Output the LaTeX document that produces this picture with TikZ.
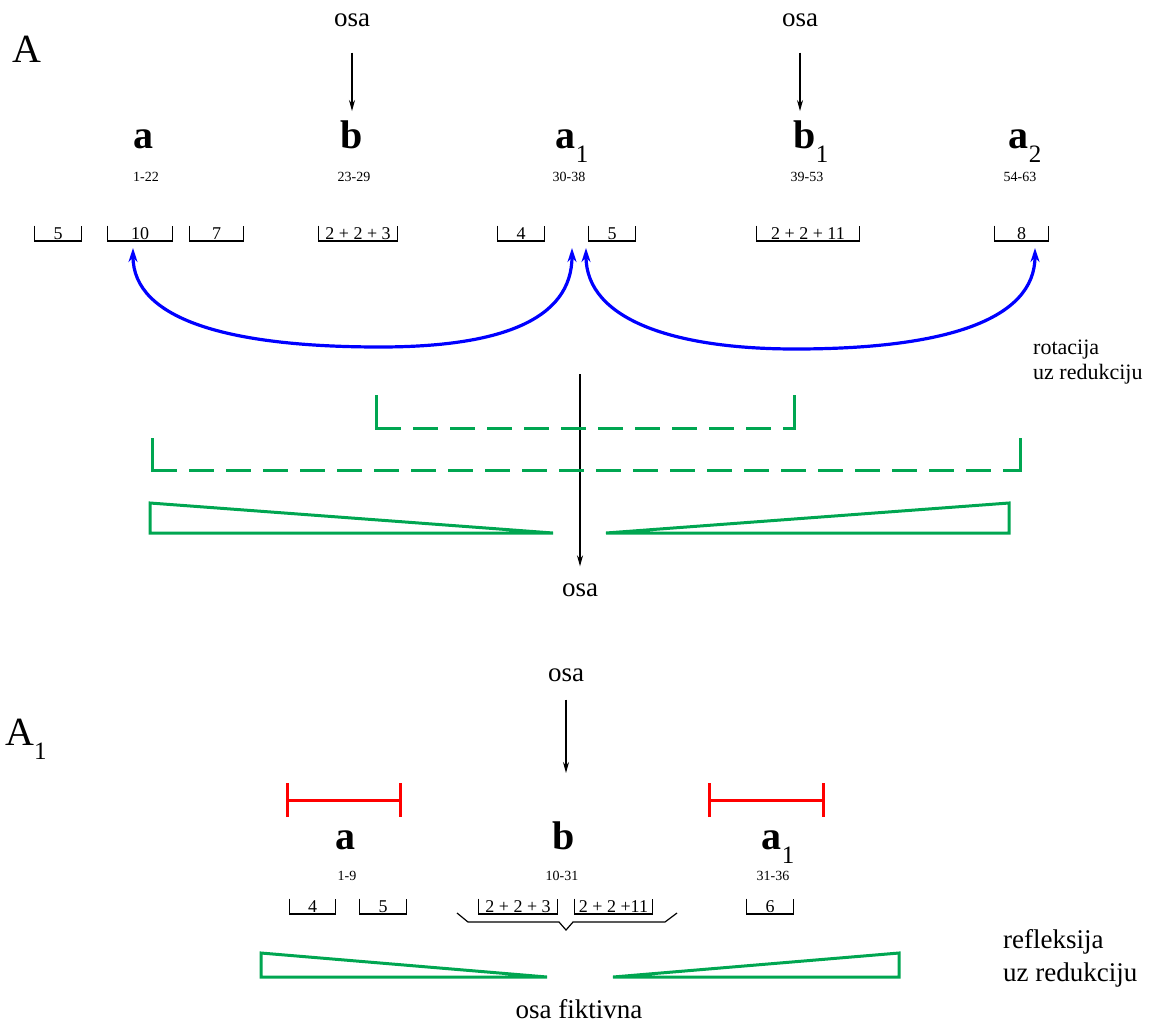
\documentclass[tikz,border=0pt]{standalone}
\usepackage{fontspec}
\setmainfont{Liberation Serif}
\usepackage{xcolor}
\usepackage{tikz}
\usetikzlibrary{arrows.meta}
\definecolor{grn}{RGB}{0,166,81}
\definecolor{blu}{RGB}{0,0,255}
\definecolor{rd}{RGB}{255,0,0}
\newcommand{\idx}[1]{\raisebox{-.35em}{\fontsize{25}{25}\selectfont\mdseries #1}}
\tikzset{
  big/.style={font=\fontsize{40}{40}\selectfont, inner sep=0pt, anchor=base},
  sym/.style={big, font=\fontsize{40}{40}\selectfont\bfseries},
  rng/.style={font=\fontsize{14}{14}\selectfont, inner sep=0pt},
  brk/.style={font=\fontsize{18}{18}\selectfont, inner sep=0pt, minimum height=15pt, anchor=south},
  brkline/.style={line width=1.2pt},
  lbl/.style={font=\fontsize{27}{27}\selectfont, inner sep=0pt},
  note/.style={align=left, anchor=west, inner sep=0pt},
  axarr/.style={-{Stealth[length=11pt, width=6pt]}, line width=1.4pt},
  rotarr/.style={{Stealth[length=14pt, width=9pt]}-{Stealth[length=14pt, width=9pt]}, draw=blu, line width=3.2pt},
  gline/.style={draw=grn, line width=3pt},
  gleg/.style={gline, line cap=rect},
  gdash/.style={gline, dash pattern=on 25pt off 12pt},
  redbar/.style={draw=rd, line width=3pt, {Bar[width=34pt]}-{Bar[width=34pt]}},
}
\begin{document}
\begin{tikzpicture}[x=1pt, y=-1pt]
  \useasboundingbox (0,0) rectangle (1155,1025);
  % --- A: rotation ---
  \node[big, anchor=base west] (titleA) at (12,63) {A};
  \node[lbl] (osaL) at (352,20) {osa};
  \node[lbl] (osaR) at (800,20) {osa};
  \node[sym] (symA) at (143,148) {a};
  \node[sym] (symB) at (352,148) {b};
  \node[sym] (symA1) at (572,148) {a\idx{1}};
  \node[sym] (symB1) at (811,148) {b\idx{1}};
  \node[sym] (symA2) at (1025,148) {a\idx{2}};
  \node[rng] (rngA) at (146,177) {1-22};
  \node[rng] (rngB) at (354,177) {23-29};
  \node[rng] (rngA1) at (569,177) {30-38};
  \node[rng] (rngB1) at (807,177) {39-53};
  \node[rng] (rngA2) at (1020,177) {54-63};
  % brackets
  \node[brk, minimum width=46pt] (brFive) at (58,241) {5};
  \node[brk, minimum width=64pt] (brTen) at (140,241) {10};
  \node[brk, minimum width=53pt] (brSeven) at (216.5,241) {7};
  \node[brk, minimum width=78pt] (brB) at (358,241) {2 + 2 + 3};
  \node[brk, minimum width=46pt] (brFour) at (521,241) {4};
  \node[brk, minimum width=46pt] (brFiveR) at (612,241) {5};
  \node[brk, minimum width=102pt] (brB1) at (808,241) {2 + 2 + 11};
  \node[brk, minimum width=53pt] (brEight) at (1021.5,241) {8};
  \foreach \b in {brFive,brTen,brSeven,brB,brFour,brFiveR,brB1,brEight}
    \draw[brkline] (\b.north west) |- (\b.south) -| (\b.north east);
  % rotation arcs
  \coordinate (tipTen) at (133,248);
  \coordinate (tipAxL) at (572,248);
  \coordinate (tipAxR) at (586,248);
  \coordinate (tipEight) at (1035,248);
  \coordinate (lowL) at (380,347);
  \coordinate (lowR) at (795,349);
  \draw[rotarr] (tipTen) .. controls +(0,72) and +(-150,0) .. (lowL)
    .. controls +(120,0) and +(0,72) .. (tipAxL);
  \draw[rotarr] (tipAxR) .. controls +(0,72) and +(-120,0) .. (lowR)
    .. controls +(150,0) and +(0,72) .. (tipEight);
  \node[note, font=\fontsize{22}{25}\selectfont] (rotNote) at (1033,362) {rotacija\\uz redukciju};
  % axes
  \draw[axarr, shorten <=26pt, shorten >=9pt] (osaL.south) -- (osaL.south |- symB.north);
  \draw[axarr, shorten <=26pt, shorten >=9pt] (osaR.south) -- (osaR.south |- symB1.north);
  \node[lbl] (osaM) at (580,590) {osa};
  \coordinate (axTopM) at (580,374);
  \draw[axarr, shorten >=17pt] (axTopM) -- (osaM.north);
  % green brackets and wedges
  \draw[gleg] (376,396) -- (376,428);
  \draw[gdash] (376,428) -- (794,428);
  \draw[gleg] (794,428) -- (794,396);
  \draw[gleg] (152,439) -- (152,470);
  \draw[gdash] (152,470) -- (1020,470);
  \draw[gleg] (1020,470) -- (1020,439);
  \draw[gline] (150,503) -- (553,533) -- (150,533) -- cycle;
  \draw[gline] (1009,503) -- (606,533) -- (1009,533) -- cycle;
  % --- A1: reflection ---
  \node[big, anchor=base west] (titleA1) at (5,745) {A\idx{1}};
  \node[lbl] (osaB) at (566,675) {osa};
  \coordinate (axEndB) at (566,773);
  \draw[axarr, shorten <=18pt] (osaB.south) -- (axEndB);
  \draw[redbar] (286,800) -- (402,800);
  \draw[redbar] (708,800) -- (825,800);
  \node[sym] (botA) at (345,849) {a};
  \node[sym] (botB) at (564,849) {b};
  \node[sym] (botA1) at (778,849) {a\idx{1}};
  \node[rng] (botRngA) at (347,876) {1-9};
  \node[rng] (botRngB) at (562,876) {10-31};
  \node[rng] (botRngA1) at (773,876) {31-36};
  \node[brk, minimum width=45pt] (bbFour) at (312.5,914) {4};
  \node[brk, minimum width=46pt] (bbFive) at (383,914) {5};
  \node[brk, minimum width=78pt] (bbB) at (518,914) {2 + 2 + 3};
  \node[brk, minimum width=77pt] (bbB1) at (613.5,914) {2 + 2 +11};
  \node[brk, minimum width=46pt] (bbSix) at (770,914) {6};
  \foreach \b in {bbFour,bbFive,bbB,bbB1,bbSix}
    \draw[brkline] (\b.north west) |- (\b.south) -| (\b.north east);
  \draw[brkline] (457,913) -- (468,922) -- (559,922) -- (566,930) -- (573,922) -- (665,922) -- (677,913);
  \draw[gline] (261,953) -- (547,977) -- (261,977) -- cycle;
  \draw[gline] (899,953) -- (613,977) -- (899,977) -- cycle;
  \node[lbl] (osaFik) at (579,1009) {osa fiktivna};
  \node[note, font=\fontsize{27}{33}\selectfont] (refNote) at (1003,958) {refleksija\\uz redukciju};
\end{tikzpicture}
\end{document}
